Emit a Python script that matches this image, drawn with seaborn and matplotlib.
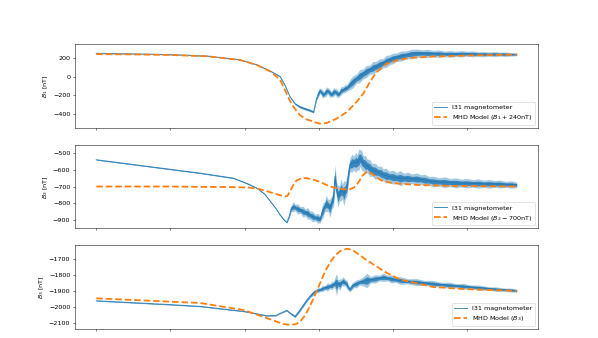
import numpy as np
import pandas as pd
import matplotlib
matplotlib.use("Agg")
import matplotlib.pyplot as plt
import seaborn as sns

# ---------------- data ----------------
# Panel 1 : B1  (observed centre line and visible noise half-width)
b1_x = [0.00, 0.50, 1.00, 1.50, 1.94, 2.17, 2.35, 2.48, 2.55, 2.61, 2.68, 2.75, 2.82, 2.88, 2.93,
        2.97, 3.00, 3.02, 3.05, 3.07, 3.10, 3.12, 3.15, 3.17, 3.20, 3.22, 3.25, 3.27, 3.30, 3.33,
        3.36, 3.38, 3.42, 3.46, 3.51, 3.55, 3.60, 3.64, 3.69, 3.73, 3.78, 3.82, 3.87, 3.91, 3.96,
        4.00, 4.05, 4.11, 4.18, 4.25, 4.32, 4.40, 4.47, 4.54, 4.62, 4.70, 4.77, 4.85, 4.92, 5.00,
        5.08, 5.15, 5.22, 5.30, 5.37, 5.44, 5.52, 5.60, 5.67]
b1_obs = [252, 246, 238, 222, 182, 128, 60, 3, -100, -211, -290, -325, -345, -361, -379,
          -236, -170, -150, -185, -190, -160, -150, -175, -190, -165, -160, -180, -190, -150, -140,
          -125, -120, -85, -55, -20, 5, 32, 55, 77, 95, 112, 130, 148, 165, 184,
          197, 210, 222, 235, 245, 252, 252, 251, 250, 248, 246, 245, 246, 247, 248,
          246, 244, 243, 243, 243, 243, 242, 241, 240]
b1_spread = [4, 3, 3, 3, 3, 3, 4, 5, 5, 5, 8, 15, 15, 15, 12,
             20, 40, 30, 45, 30, 50, 35, 45, 30, 50, 35, 45, 30, 45, 35,
             45, 35, 55, 65, 50, 70, 55, 65, 50, 68, 55, 62, 50, 65, 52,
             58, 45, 55, 42, 52, 45, 38, 45, 33, 40, 30, 36, 28, 34, 26,
             32, 24, 28, 22, 27, 21, 24, 18, 15]
m1_x = [0.00, 0.50, 1.00, 1.50, 1.94, 2.17, 2.35, 2.48, 2.55, 2.61, 2.66, 2.70, 2.75, 2.84, 2.88,
        2.95, 3.02, 3.11, 3.24, 3.38, 3.51, 3.60, 3.69, 3.78, 3.91, 4.05, 4.23, 4.54, 5.00, 5.67]
m1_model = [243, 240, 234, 220, 180, 125, 55, -32, -150, -255, -325, -365, -415, -460, -469,
            -490, -504, -497, -450, -379, -271, -182, -57, 50, 139, 175, 203, 217, 228, 239]

# Panel 2 : B2
b2_x = [0.00, 0.35, 0.70, 1.05, 1.40, 1.85, 2.05, 2.17, 2.27, 2.35, 2.42, 2.48, 2.53, 2.57,
        2.60, 2.63, 2.66, 2.68, 2.72, 2.75, 2.79, 2.82, 2.85, 2.88, 2.92, 2.95, 2.99, 3.02,
        3.04, 3.06, 3.08, 3.10, 3.13, 3.15, 3.18, 3.20, 3.22, 3.24, 3.26, 3.28, 3.30, 3.32,
        3.34, 3.36, 3.38, 3.40, 3.42, 3.45, 3.47, 3.50, 3.52, 3.54, 3.56, 3.58, 3.60, 3.63,
        3.65, 3.69, 3.72, 3.76, 3.80, 3.84, 3.87, 3.91, 3.95, 4.00, 4.05, 4.10, 4.15, 4.20,
        4.26, 4.32, 4.38, 4.43, 4.49, 4.54, 4.62, 4.70, 4.77, 4.85, 4.92, 5.00, 5.08, 5.15,
        5.22, 5.30, 5.37, 5.44, 5.52, 5.60, 5.67]
b2_obs = [-540, -560, -580, -600, -620, -650, -685, -710, -745, -790, -830, -870, -898, -915,
          -880, -830, -820, -825, -835, -840, -850, -855, -860, -870, -880, -885, -890, -895,
          -860, -840, -820, -800, -815, -830, -790, -760, -640, -720, -760, -740, -720, -730,
          -740, -720, -700, -630, -570, -560, -560, -555, -555, -540, -530, -545, -560, -570,
          -575, -590, -600, -608, -615, -622, -630, -635, -640, -644, -648, -650, -651, -652,
          -654, -655, -658, -662, -666, -670, -672, -674, -676, -678, -679, -680, -681, -682,
          -683, -684, -684, -685, -687, -688, -690]
b2_spread = [3, 3, 3, 3, 3, 3, 3, 3, 3, 3, 3, 4, 4, 4,
             10, 20, 30, 20, 30, 20, 32, 22, 35, 25, 32, 20, 30, 20,
             35, 45, 30, 50, 35, 55, 40, 60, 70, 50, 65, 45, 65, 45,
             75, 50, 60, 50, 40, 55, 40, 60, 45, 65, 50, 60, 45, 55,
             40, 50, 38, 48, 35, 45, 35, 45, 32, 42, 32, 45, 30, 38,
             28, 36, 28, 35, 26, 32, 25, 32, 24, 30, 23, 28, 22, 28,
             21, 26, 20, 24, 18, 22, 16]
m2_x = [0.00, 1.00, 1.40, 1.80, 2.05, 2.17, 2.28, 2.39, 2.48, 2.55, 2.58, 2.61, 2.66, 2.70, 2.77,
        2.84, 2.93, 3.02, 3.10, 3.20, 3.33, 3.42, 3.48, 3.51, 3.55, 3.58, 3.65, 3.72, 3.78, 3.83,
        3.92, 4.00, 4.32, 4.77, 5.67]
m2_model = [-700, -700, -702, -703, -706, -712, -725, -740, -752, -760, -755, -730, -690, -664, -650,
            -650, -660, -672, -690, -706, -716, -716, -705, -690, -665, -640, -610, -624, -645, -660,
            -672, -680, -690, -696, -700]

# Panel 3 : B3
b3_x = [0.00, 0.50, 1.00, 1.40, 1.99, 2.30, 2.42, 2.50, 2.57, 2.62, 2.68, 2.75, 2.82,
        2.88, 2.92, 2.95, 2.99, 3.02, 3.05, 3.08, 3.12, 3.15, 3.18, 3.20, 3.22, 3.24, 3.26,
        3.29, 3.31, 3.33, 3.36, 3.38, 3.40, 3.42, 3.45, 3.47, 3.51, 3.55, 3.60, 3.65, 3.70,
        3.76, 3.82, 3.87, 3.93, 3.98, 4.04, 4.10, 4.20, 4.32, 4.43, 4.54, 4.65, 4.77, 4.86,
        4.95, 5.05, 5.15, 5.30, 5.40, 5.50, 5.60, 5.67]
b3_obs = [-1961, -1973, -1985, -1996, -2027, -2054, -2053, -2035, -2021, -2040, -2059, -2017, -1970,
          -1934, -1915, -1903, -1895, -1892, -1885, -1880, -1875, -1870, -1865, -1860, -1850, -1860, -1855,
          -1860, -1845, -1840, -1850, -1860, -1880, -1890, -1870, -1862, -1855, -1845, -1840, -1835, -1830,
          -1825, -1820, -1815, -1820, -1825, -1830, -1835, -1840, -1845, -1850, -1855, -1860, -1865, -1868,
          -1871, -1875, -1879, -1885, -1889, -1892, -1895, -1898]
b3_spread = [3, 3, 3, 3, 3, 3, 3, 3, 4, 6, 8, 10, 10,
             10, 14, 10, 16, 12, 20, 14, 25, 16, 28, 18, 35, 70, 25,
             35, 22, 30, 20, 28, 18, 15, 22, 18, 25, 18, 28, 45, 20,
             26, 18, 26, 18, 25, 17, 24, 16, 22, 15, 20, 14, 19, 13,
             18, 12, 16, 11, 14, 10, 12, 10]
m3_x = [0.00, 1.40, 1.99, 2.30, 2.52, 2.62, 2.70, 2.75, 2.82, 2.88, 2.95, 3.02, 3.08, 3.15, 3.22,
        3.29, 3.38, 3.45, 3.51, 3.62, 3.74, 3.92, 4.10, 4.54, 4.95, 5.67]
m3_model = [-1946, -1975, -2019, -2069, -2105, -2112, -2105, -2090, -2050, -1996, -1925, -1850, -1785, -1725, -1680,
            -1652, -1637, -1645, -1662, -1700, -1736, -1788, -1829, -1875, -1888, -1900]

obs_label = "I31 magnetometer"
model_labels = [r"MHD Model ($B_1 + 240$nT)", r"MHD Model ($B_2 - 700$nT)", r"MHD Model ($B_3$)"]
y_labels = [r"$B_1$ [nT]", r"$B_2$ [nT]", r"$B_3$ [nT]"]
y_ticks = [[-400, -200, 0, 200], [-900, -800, -700, -600, -500], [-2100, -2000, -1900, -1800, -1700]]
y_lims = [(-550, 350), (-950, -450), (-2136, -1615)]
x_ticks = [0, 1, 2, 3, 4, 5]

panels = [
    (b1_x, b1_obs, b1_spread, m1_x, m1_model),
    (b2_x, b2_obs, b2_spread, m2_x, m2_model),
    (b3_x, b3_obs, b3_spread, m3_x, m3_model),
]

# ---------------- plot ----------------
blue = "#1f77b4"
orange = "#ff7f0e"

fig, axes = plt.subplots(3, 1, figsize=(13, 7.35), dpi=46)
fig.subplots_adjust(left=0.125, right=0.9, top=0.869, bottom=0.027, hspace=0.2)

for i, ax in enumerate(axes):
    bx, bobs, bspr, mx, mmod = panels[i]
    obs = pd.DataFrame({"x": bx, "y": bobs, "s": bspr})
    mod = pd.DataFrame({"x": mx, "y": mmod})
    ax.fill_between(obs["x"], obs["y"] - obs["s"], obs["y"] + obs["s"],
                    color=blue, alpha=0.4, lw=0)
    ax.fill_between(obs["x"], obs["y"] - 0.5 * obs["s"], obs["y"] + 0.5 * obs["s"],
                    color=blue, alpha=0.8, lw=0)
    sns.lineplot(data=obs, x="x", y="y", ax=ax, color=blue, lw=1.5, alpha=0.85,
                 label=obs_label)
    sns.lineplot(data=mod, x="x", y="y", ax=ax, color=orange, lw=2.8, linestyle="--",
                 label=model_labels[i])
    ax.set_xlim(-0.29, 5.96)
    ax.set_ylim(*y_lims[i])
    ax.set_yticks(y_ticks[i])
    ax.set_xticks(x_ticks)
    ax.set_xticklabels([])
    ax.set_xlabel("")
    ax.set_ylabel(y_labels[i])
    ax.legend(loc="lower right")

fig.savefig("out.png", dpi=46)
